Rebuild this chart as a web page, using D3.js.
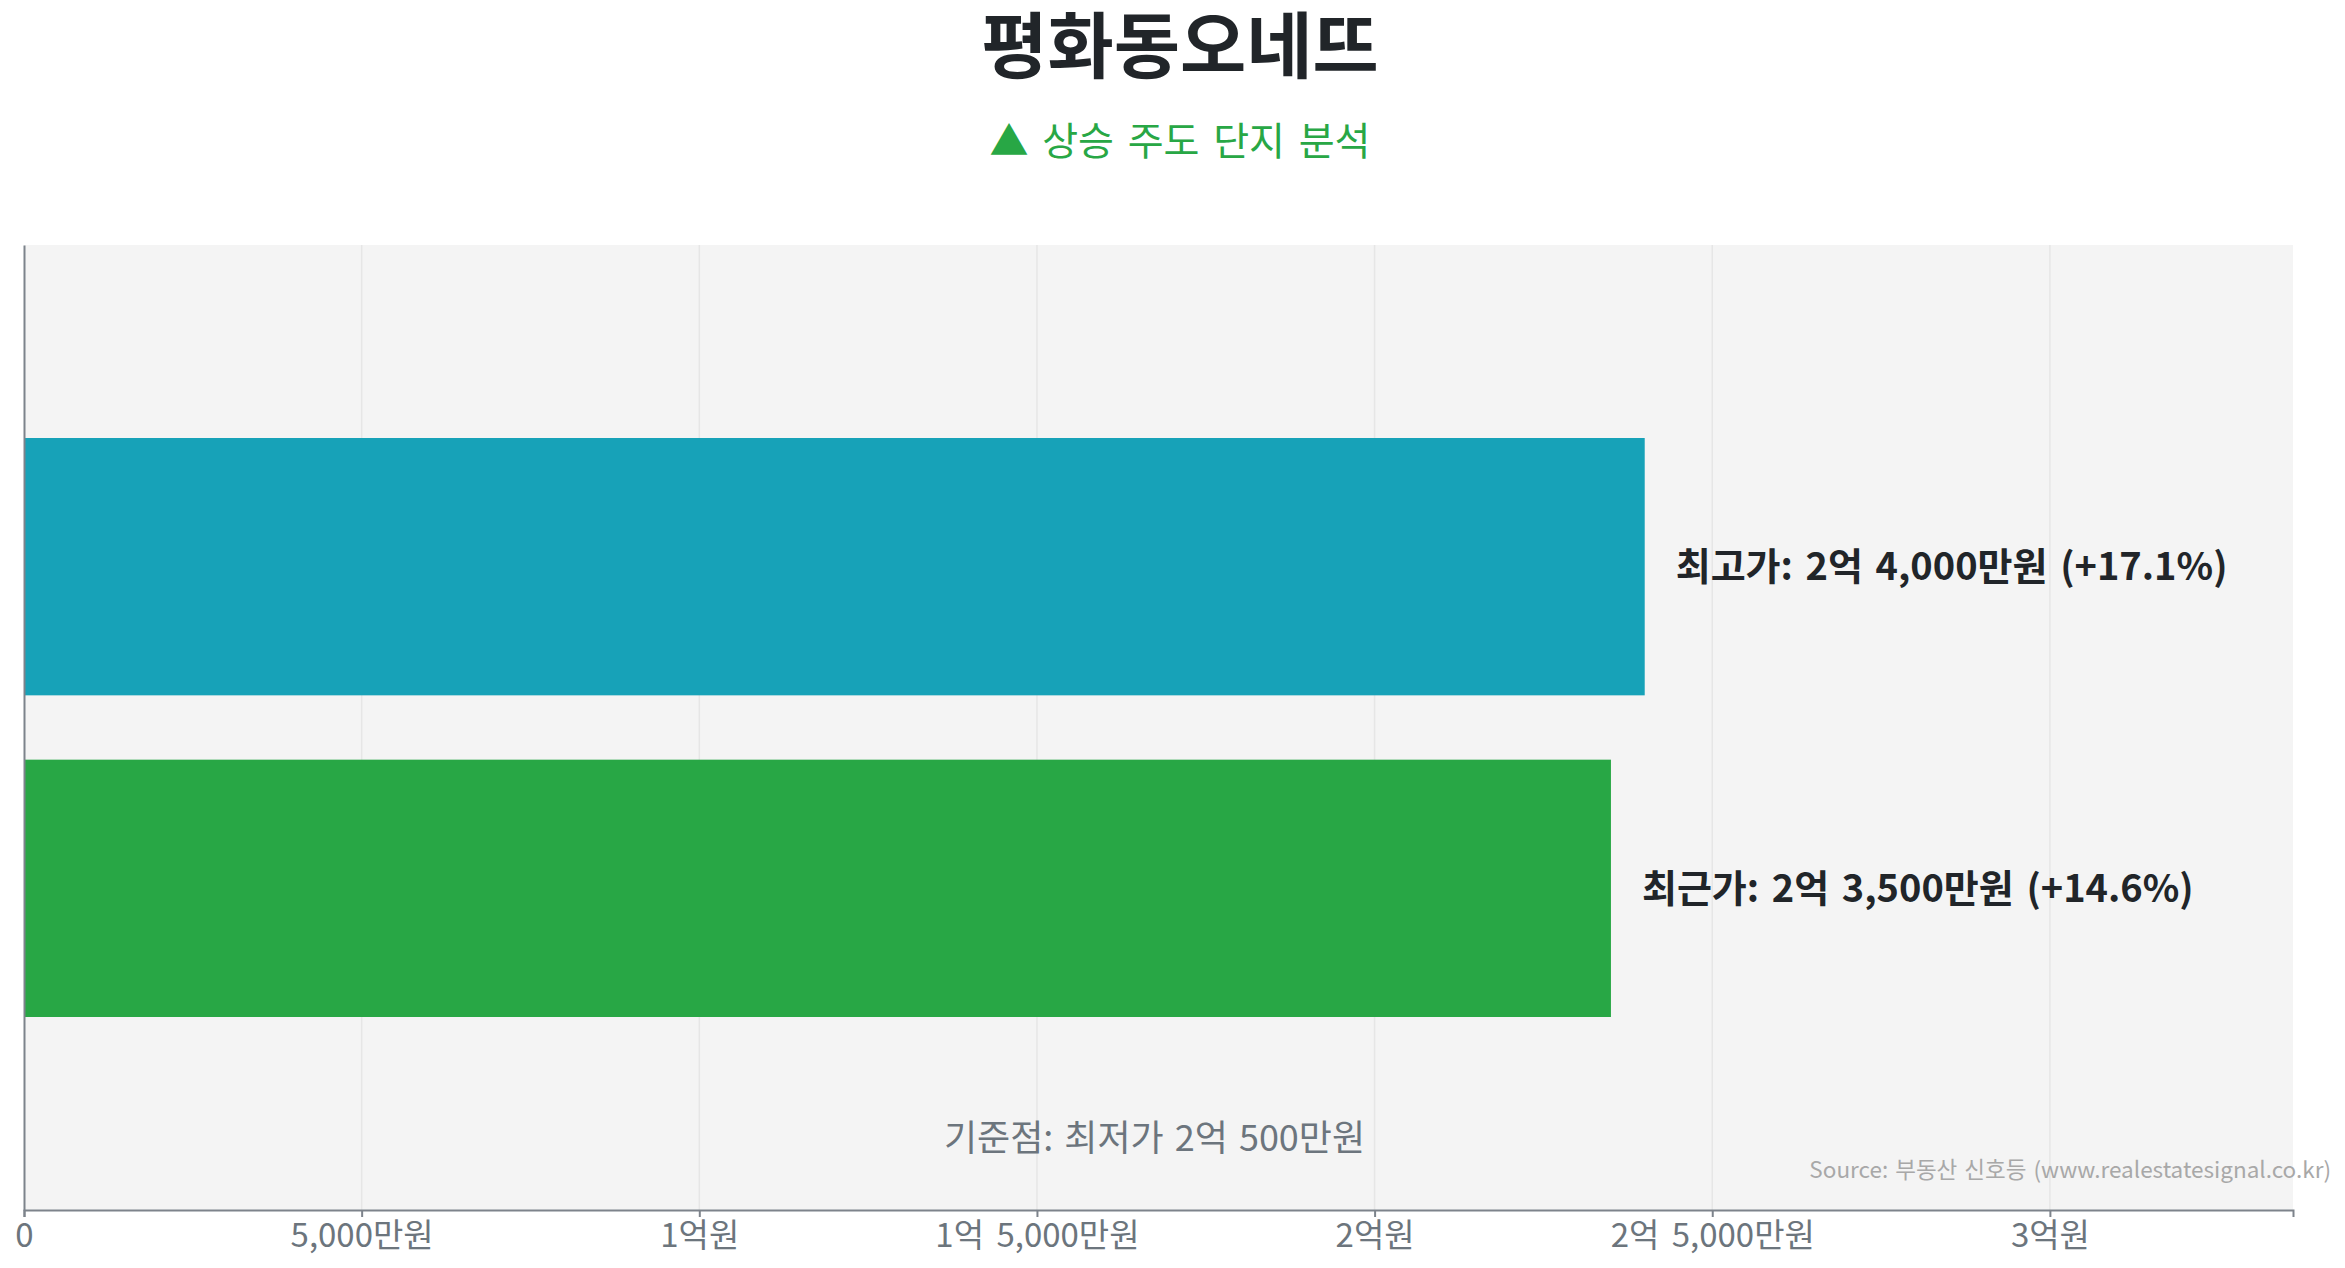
<!DOCTYPE html>
<html>
<head>
<meta charset="utf-8">
<script src="https://cdn.jsdelivr.net/npm/d3@7"></script>
<style>
  html, body { margin: 0; padding: 0; background: #ffffff; }
  svg { display: block; }
  text { font-family: "Noto Sans CJK KR", "Noto Sans", sans-serif; }
</style>
</head>
<body>
<svg id="chart" width="2345" height="1268"></svg>
<script>
// ---- data ----
const titleText = "평화동오네뜨";
const subtitleText = "▲ 상승 주도 단지 분석";
const categories = ["최고가", "최근가"];
const values = [24000, 23500];            // 만원
const barColors = ["#17a2b8", "#28a745"];
const basePrice = 20500;                   // 최저가 (만원)
const baseLabel = "기준점: 최저가";
const tickValues = [0, 5000, 10000, 15000, 20000, 25000, 30000];
const sourceText = "Source: 부동산 신호등 (www.realestatesignal.co.kr)";

// ---- helpers ----
function fmtPrice(v) {
  const eok = Math.floor(v / 10000);
  const man = v % 10000;
  const parts = [];
  if (eok > 0) parts.push(eok + "억");
  if (man > 0) parts.push(d3.format(",")(man) + "만원");
  else if (eok > 0) parts[parts.length - 1] += "원";
  return parts.join(" ");
}
function fmtTick(v) { return v === 0 ? "0" : fmtPrice(v); }

// ---- layout ----
const W = 2345, H = 1268;
const margin = { top: 245, right: 52, bottom: 58, left: 24 };
const innerW = W - margin.left - margin.right;
const innerH = H - margin.top - margin.bottom;

const svg = d3.select("#chart");

svg.append("text")
  .attr("x", 1180).attr("y", 40)
  .attr("text-anchor", "middle")
  .attr("dominant-baseline", "central")
  .attr("font-size", 72).attr("font-weight", 700)
  .attr("fill", "#212529")
  .text(titleText);

svg.append("text")
  .attr("x", 1180).attr("y", 138)
  .attr("text-anchor", "middle")
  .attr("dominant-baseline", "central")
  .attr("font-size", 39)
  .attr("word-spacing", 5)
  .attr("fill", "#28a745")
  .text(subtitleText);

const g = svg.append("g").attr("transform", `translate(${margin.left},${margin.top})`);

const x = d3.scaleLinear().domain([0, d3.max(values) * 1.4]).range([0, innerW]);
const y = d3.scaleBand().domain(categories).range([0, innerH]).paddingInner(0.2).paddingOuter(0.6);

g.append("rect")
  .attr("x", 0).attr("y", 0).attr("width", innerW).attr("height", innerH)
  .attr("fill", "#f4f4f4");

// grid
g.append("g").selectAll("line").data(tickValues.filter(d => d > 0)).join("line")
  .attr("x1", d => x(d)).attr("x2", d => x(d))
  .attr("y1", 0).attr("y2", innerH)
  .attr("stroke", "#e6e6e6").attr("stroke-width", 1.5);

// bars
g.append("g").selectAll("rect").data(categories).join("rect")
  .attr("x", 0)
  .attr("y", d => y(d))
  .attr("width", (d, i) => x(values[i]))
  .attr("height", y.bandwidth())
  .attr("fill", (d, i) => barColors[i]);

// value labels
g.append("g").selectAll("text").data(categories).join("text")
  .attr("x", (d, i) => x(values[i]) + 31)
  .attr("y", d => y(d) + y.bandwidth() / 2 - 3)
  .attr("dominant-baseline", "central")
  .attr("font-size", 38).attr("font-weight", 700)
  .attr("word-spacing", 4)
  .attr("fill", "#212529")
  .text((d, i) => `${d}: ${fmtPrice(values[i])} (+${((values[i] / basePrice - 1) * 100).toFixed(1)}%)`);

// base label
g.append("text")
  .attr("x", innerW / 2 - 4)
  .attr("y", innerH - 75)
  .attr("text-anchor", "middle")
  .attr("dominant-baseline", "central")
  .attr("font-size", 36)
  .attr("word-spacing", 3)
  .attr("fill", "#6c757d")
  .text(`${baseLabel} ${fmtPrice(basePrice)}`);

// x axis
const xAxis = g.append("g")
  .attr("transform", `translate(0,${innerH})`)
  .call(d3.axisBottom(x).tickValues(tickValues).tickFormat(fmtTick).tickSize(7).tickPadding(7));
xAxis.select(".domain").attr("stroke", "#7d838b").attr("stroke-width", 2);
xAxis.selectAll(".tick line").attr("stroke", "#7d838b").attr("stroke-width", 2);
xAxis.selectAll(".tick text")
  .attr("font-size", 33)
  .attr("word-spacing", 5)
  .attr("fill", "#6c757d")
  .attr("font-family", '"Noto Sans CJK KR", "Noto Sans", sans-serif');

// y axis line
const yAxis = g.append("g")
  .call(d3.axisLeft(y).tickSize(0).tickFormat(""));
yAxis.select(".domain").attr("stroke", "#7d838b").attr("stroke-width", 2);

// source
svg.append("text")
  .attr("x", W - 14)
  .attr("y", 1168)
  .attr("text-anchor", "end")
  .attr("dominant-baseline", "central")
  .attr("font-size", 22.5)
  .attr("word-spacing", 2)
  .attr("fill", "#a8a8a8")
  .text(sourceText);
</script>
</body>
</html>
